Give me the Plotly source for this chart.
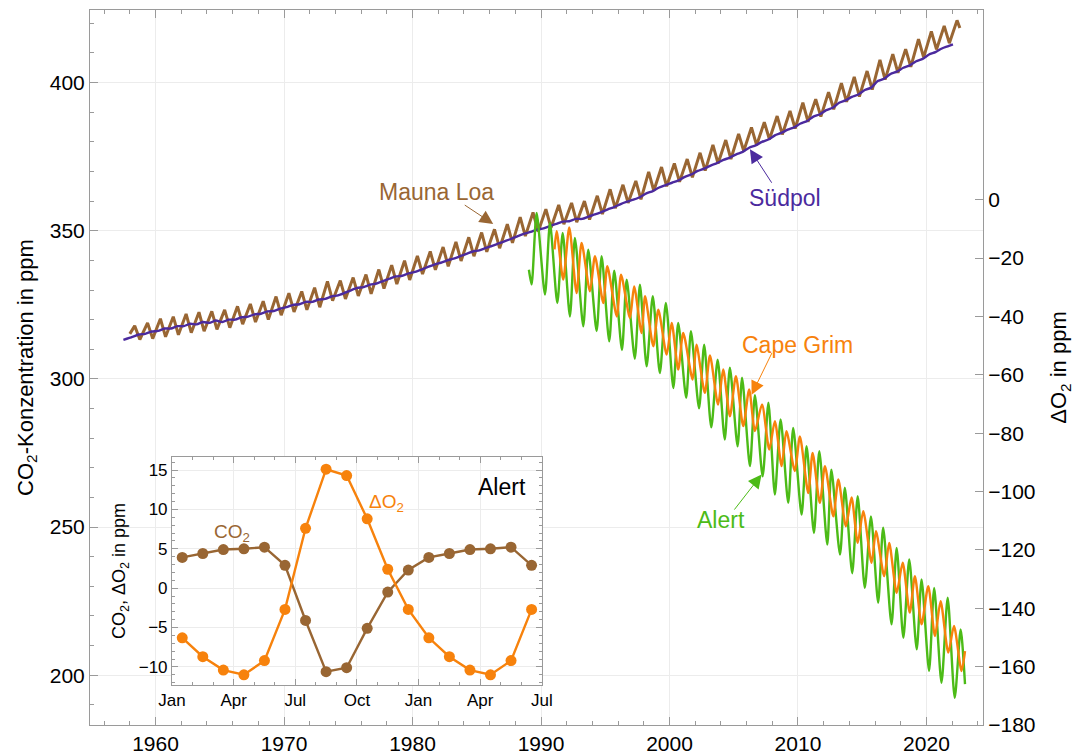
import plotly.graph_objects as go

# ---------------- data ----------------
# Mauna Loa CO2 (ppm): yearly seasonal maxima (~May) and minima (~Oct), 1958..2022
mlo_years = list(range(1958, 2023))
mlo_peak = [317.9, 318.9, 320.3, 321.0, 321.9, 322.5, 322.8, 323.3, 324.5, 325.3,
            326.2, 327.8, 328.9, 329.5, 330.8, 332.9, 333.2, 334.2, 335.2, 336.9,
            338.4, 339.9, 341.5, 343.0, 344.5, 346.2, 347.8, 349.4, 350.5, 352.2,
            354.6, 356.2, 357.3, 358.7, 359.4, 360.0, 361.8, 364.0, 365.5, 366.8,
            369.9, 371.5, 372.7, 374.2, 376.3, 379.0, 380.6, 382.7, 384.9, 386.6,
            388.7, 390.4, 393.2, 394.4, 396.8, 399.8, 401.9, 403.9, 407.7, 409.6,
            411.3, 414.7, 417.3, 419.1, 421.0]
mlo_trough = [313.3, 313.6, 314.2, 314.9, 315.6, 316.1, 316.7, 317.3, 318.5, 319.2,
              320.0, 321.5, 322.6, 323.3, 324.2, 326.4, 327.0, 328.0, 328.7, 330.5,
              332.0, 333.4, 335.4, 336.8, 338.0, 339.8, 341.4, 342.9, 344.1, 345.9,
              348.2, 349.7, 351.0, 352.2, 352.9, 353.8, 355.6, 357.6, 359.4, 360.6,
              363.5, 365.0, 366.5, 368.0, 370.3, 372.7, 374.2, 376.9, 378.9, 380.9,
              382.5, 384.5, 386.8, 388.5, 391.0, 393.5, 395.3, 397.6, 401.0, 403.3,
              405.3, 408.5, 411.2, 413.3]
mlo_start = (1958.0, 315.2)
mlo_end = (2022.6, 418.4)

# South Pole CO2 (ppm): yearly seasonal low / high, 1958..2021
spo_years = list(range(1958, 2022))
spo_low = [314.2, 315.2, 316.2, 317.0, 317.8, 318.4, 318.9, 319.2, 320.0, 321.0,
           322.0, 322.9, 324.2, 325.2, 326.0, 327.0, 328.2, 329.9, 331.0, 332.2,
           333.8, 334.8, 336.1, 337.8, 339.2, 340.6, 342.2, 343.4, 344.9, 346.5,
           348.2, 349.6, 350.8, 352.3, 353.2, 354.0, 355.5, 357.2, 359.0, 360.5,
           362.6, 364.6, 366.2, 368.2, 370.2, 372.0, 373.9, 375.8, 378.0, 380.0,
           382.2, 384.1, 386.2, 388.5, 390.7, 393.2, 395.2, 397.5, 400.5, 402.9,
           405.0, 407.2, 409.5, 411.5]
spo_high = [315.0, 316.0, 317.0, 317.8, 318.6, 319.2, 319.7, 320.0, 320.8, 321.8,
            322.8, 323.7, 325.0, 326.0, 326.8, 327.8, 329.0, 330.7, 331.8, 333.0,
            334.6, 335.6, 336.9, 338.6, 340.0, 341.4, 343.0, 344.2, 345.7, 347.3,
            349.0, 350.4, 351.6, 353.1, 354.0, 354.8, 356.3, 358.0, 359.8, 361.3,
            363.4, 365.4, 367.0, 369.0, 371.0, 372.8, 374.7, 376.6, 378.8, 380.8,
            383.0, 384.9, 387.0, 389.3, 391.5, 394.0, 396.0, 398.3, 401.3, 403.7,
            405.8, 408.0, 410.3, 412.3]
spo_start = (1957.5, 313.2)
spo_end = (2022.06, 412.9)

# Alert Delta O2 (ppm): seasonal extremes
alert_t = [1989.06, 1989.27, 1989.66, 1990.31, 1990.70, 1991.27, 1991.69, 1992.25, 1992.64,
           1993.29, 1993.68, 1994.33, 1994.72, 1995.31, 1995.70, 1996.30, 1996.67, 1997.30,
           1997.70, 1998.22, 1998.70, 1999.25, 1999.72, 2000.30, 2000.68, 2001.30, 2001.67,
           2002.30, 2002.70, 2003.25, 2003.75, 2004.30, 2004.70, 2005.30, 2005.65, 2006.26,
           2006.65, 2007.25, 2007.70, 2008.20, 2008.65, 2009.24, 2009.63, 2010.28, 2010.67,
           2011.24, 2011.66, 2012.28, 2012.60, 2013.27, 2013.65, 2014.22, 2014.65, 2015.20,
           2015.68, 2016.24, 2016.63, 2017.28, 2017.68, 2018.20, 2018.66, 2019.24, 2019.62,
           2020.20, 2020.60, 2021.17, 2021.65, 2022.20, 2022.66, 2023.00]
alert_v = [-24, -29, -4.5, -32.5, -8, -35.4, -11.4, -40, -13.1,
           -43.4, -17.1, -45, -19.4, -48.5, -24.3, -51.5, -27.4, -54.5,
           -29.1, -57.1, -33.1, -59.4, -35.4, -64.5, -42.2, -67.9, -45.1,
           -71.5, -49.7, -78.0, -54.8, -82.2, -57.6, -84.5, -61.0, -91.3,
           -67, -94.8, -69.6, -101, -75.3, -103.9, -78.2, -107.9, -84.5,
           -114.2, -86.2, -118.2, -92.5, -121.6, -98.7, -128, -101.6, -133,
           -108.5, -138.1, -112.4, -145.5, -119.3, -150.1, -123.3, -154.1, -130.1,
           -161.5, -133, -165.5, -136.4, -170.7, -147.3, -166]

# Cape Grim Delta O2 (ppm): seasonal extremes
cg_t = [1991.05, 1991.22, 1991.73, 1992.2, 1992.77, 1993.16, 1993.81, 1994.2, 1994.85,
        1995.16, 1995.9, 1996.23, 1996.92, 1997.25, 1997.83, 1998.1, 1998.74, 1999.13,
        1999.78, 2000.17, 2000.68, 2001.07, 2001.8, 2002.1, 2002.75, 2003.15, 2003.78,
        2004.18, 2004.7, 2005.17, 2005.74, 2006.2, 2006.65, 2007.2, 2007.77, 2008.2,
        2008.73, 2009.1, 2009.76, 2010.15, 2010.8, 2011.14, 2011.7, 2012.1, 2012.75,
        2013.14, 2013.73, 2014.17, 2014.65, 2015.08, 2015.73, 2016.07, 2016.71, 2017.1,
        2017.68, 2018.15, 2018.7, 2019.1, 2019.62, 2020.14, 2020.66, 2021.1, 2021.7,
        2022.14, 2022.73, 2023.0]
cg_v = [-17, -10.8, -27.4, -9.5, -32, -14.8, -31.4, -19.4, -35.4,
        -22.8, -40, -25.7, -40.5, -29.7, -45.7, -33.1, -50.2, -37.7,
        -53.1, -42.2, -58.2, -45.7, -61.6, -49.7, -66.2, -53.4, -70.2,
        -58.2, -74.2, -60.5, -77.6, -65, -79.3, -70.2, -85.6, -75.9,
        -91.3, -79.3, -93, -81.1, -100.5, -86.8, -103.9, -91.3, -108.5,
        -95.9, -111.9, -102, -117.6, -106.7, -124.4, -113.6, -129, -117.6,
        -134.7, -124.4, -141.5, -129, -145.5, -132.4, -149.5, -137.6, -155.2,
        -146.1, -161.5, -154.7]

# Inset: mean seasonal cycle at Alert (18 months, Jan..Jun of next year)
inset_month = [0.5, 1.5, 2.5, 3.5, 4.5, 5.5, 6.5, 7.5, 8.5, 9.5, 10.5, 11.5,
               12.5, 13.5, 14.5, 15.5, 16.5, 17.5]
co2_cycle = [3.9, 4.4, 4.9, 5.0, 5.2, 2.9, -4.1, -10.6, -10.1, -5.1, -0.5, 2.3,
             3.9, 4.4, 4.9, 5.0, 5.2, 2.9]
o2_cycle = [-6.3, -8.7, -10.4, -11.0, -9.2, -2.7, 7.6, 15.1, 14.3, 8.8, 2.4, -2.7,
            -6.3, -8.7, -10.4, -11.0, -9.2, -2.7]
inset_tickvals = [0, 3, 6, 9, 12, 15, 18]
inset_ticktext = ["Jan", "Apr", "Jul", "Oct", "Jan", "Apr", "Jul"]

main_xticks = [1960, 1970, 1980, 1990, 2000, 2010, 2020]
o2_ticks = [0, -20, -40, -60, -80, -100, -120, -140, -160, -180]

# ---------------- build series ----------------
mlo_x, mlo_y = [mlo_start[0]], [mlo_start[1]]
for i, yr in enumerate(mlo_years):
    mlo_x.append(yr + 0.38); mlo_y.append(mlo_peak[i])
    if i < len(mlo_trough):
        mlo_x.append(yr + 0.78); mlo_y.append(mlo_trough[i])
mlo_x.append(mlo_end[0]); mlo_y.append(mlo_end[1])

spo_x, spo_y = [spo_start[0]], [spo_start[1]]
for i, yr in enumerate(spo_years):
    spo_x.append(yr + 0.2); spo_y.append(spo_low[i])
    spo_x.append(yr + 0.7); spo_y.append(spo_high[i])
spo_x.append(spo_end[0]); spo_y.append(spo_end[1])

BROWN = "#996633"
PURPLE = "#4B2A9E"
ORANGE = "#F7820C"
GREEN = "#4CBB17"
AXC = "#9a9a9a"
GRID = "#ececec"
FONT = "Liberation Sans, Arial, sans-serif"

fig = go.Figure()
fig.add_trace(go.Scatter(x=mlo_x, y=mlo_y, mode="lines", line=dict(color=BROWN, width=3),
                         xaxis="x", yaxis="y", showlegend=False))
fig.add_trace(go.Scatter(x=spo_x, y=spo_y, mode="lines", line=dict(color=PURPLE, width=2.4, shape="spline", smoothing=0.6),
                         xaxis="x", yaxis="y", showlegend=False))
fig.add_trace(go.Scatter(x=alert_t, y=alert_v, mode="lines",
                         line=dict(color=GREEN, width=2.4, shape="spline", smoothing=0.7),
                         xaxis="x", yaxis="y2", showlegend=False))
fig.add_trace(go.Scatter(x=cg_t, y=cg_v, mode="lines",
                         line=dict(color=ORANGE, width=2.4, shape="spline", smoothing=0.7),
                         xaxis="x", yaxis="y2", showlegend=False))

# inset
fig.add_trace(go.Scatter(x=inset_month, y=co2_cycle, mode="lines+markers",
                         line=dict(color=BROWN, width=2.4), marker=dict(color=BROWN, size=11),
                         xaxis="x2", yaxis="y3", showlegend=False))
fig.add_trace(go.Scatter(x=inset_month, y=o2_cycle, mode="lines+markers",
                         line=dict(color=ORANGE, width=2.4), marker=dict(color=ORANGE, size=11),
                         xaxis="x2", yaxis="y3", showlegend=False))

axis_common = dict(showline=True, linecolor=AXC, linewidth=1, ticks="inside", tickcolor=AXC,
                   zeroline=False, tickfont=dict(family=FONT, size=21, color="black"))

fig.update_layout(
    width=1077, height=756,
    margin=dict(l=90, r=94, t=10, b=31),
    paper_bgcolor="white", plot_bgcolor="white",
    font=dict(family=FONT, color="black"),
    xaxis=dict(**axis_common, range=[1954.9, 2024.4], tickvals=main_xticks, ticklen=8,
               mirror="ticks", showgrid=True, gridcolor=GRID, automargin=False,
               minor=dict(dtick=2, tick0=1960, ticks="inside", ticklen=4, tickcolor=AXC, showgrid=False)),
    yaxis=dict(**axis_common, range=[183.2, 424.5], tick0=200, dtick=50, ticklen=8,
               showgrid=True, gridcolor=GRID, automargin=False,
               minor=dict(dtick=10, tick0=200, ticks="inside", ticklen=4, tickcolor=AXC, showgrid=False),
               title=dict(text="CO<sub>2</sub>-Konzentration in ppm", standoff=10,
                          font=dict(family=FONT, size=22, color="black"))),
    yaxis2=dict(**axis_common, overlaying="y", side="right", anchor="x", range=[-180, 65.0],
                tickvals=o2_ticks, ticklen=8, showgrid=False, automargin=False,
                title=dict(text="ΔO<sub>2</sub> in ppm", standoff=16,
                           font=dict(family=FONT, size=22, color="black"))),
    xaxis2=dict(showline=True, linecolor=AXC, linewidth=1, ticks="inside", tickcolor=AXC,
                zeroline=False, tickfont=dict(family=FONT, size=17, color="black"),
                domain=[0.0918, 0.506], anchor="y3", range=[0, 18],
                tickvals=inset_tickvals, ticktext=inset_ticktext, ticklen=6, mirror="ticks",
                showgrid=True, gridcolor=GRID,
                minor=dict(dtick=1, tick0=0, ticks="inside", ticklen=3, tickcolor=AXC, showgrid=False)),
    yaxis3=dict(showline=True, linecolor=AXC, linewidth=1, ticks="inside", tickcolor=AXC,
                zeroline=False, tickfont=dict(family=FONT, size=17, color="black"),
                domain=[0.0559, 0.3748], anchor="x2", range=[-12.3, 16.65], tick0=0, dtick=5,
                ticklen=6, mirror="ticks", showgrid=True, gridcolor=GRID,
                minor=dict(dtick=1, tick0=0, ticks="inside", ticklen=3, tickcolor=AXC, showgrid=False),
                title=dict(text="CO<sub>2</sub>, ΔO<sub>2</sub> in ppm", standoff=8,
                           font=dict(family=FONT, size=18, color="black"))),
)

# labels
def label(text, x, y, color, yref="y", xref="x", size=23):
    fig.add_annotation(text=text, x=x, y=y, xref=xref, yref=yref, showarrow=False,
                       font=dict(family=FONT, size=size, color=color))

def arrow(x, y, ax, ay, color, yref="y"):
    fig.add_annotation(text="", x=x, y=y, ax=ax, ay=ay, xref="x", yref=yref,
                       axref="x", ayref=yref, showarrow=True, arrowhead=2, arrowsize=2.7,
                       arrowwidth=1, arrowcolor=color, standoff=0)

label("Mauna Loa", 1981.9, 363.0, BROWN)
arrow(1986.28, 352.3, 1983.95, 359.0, BROWN)
label("Südpol", 2009.0, 361.0, PURPLE)
arrow(2006.26, 377.5, 2008.03, 365.7, PURPLE)
label("Cape Grim", 2010.0, -49.7, ORANGE, yref="y2")
arrow(2006.39, -66.8, 2008.03, -52.0, ORANGE, yref="y2")
label("Alert", 2004.0, -109.9, GREEN, yref="y2")
arrow(2007.17, -94.2, 2004.96, -106.7, GREEN, yref="y2")

label("Alert", 16.05, 12.84, "black", xref="x2", yref="y3", size=23)
label("ΔO<sub>2</sub>", 10.46, 10.8, ORANGE, xref="x2", yref="y3", size=19)
label("CO<sub>2</sub>", 2.92, 7.0, BROWN, xref="x2", yref="y3", size=19)

fig.write_html("out.html", config={"displayModeBar": False},
               post_script="document.body.style.margin='0';")
